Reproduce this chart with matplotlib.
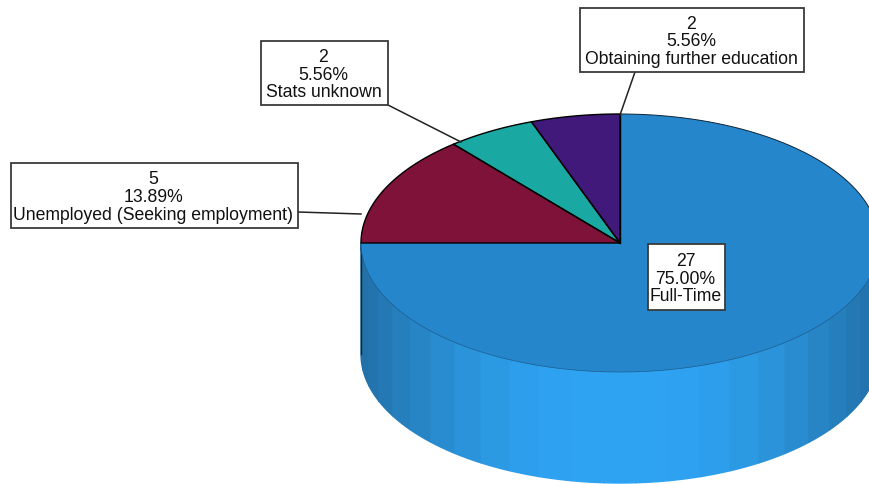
#!/usr/bin/env python

"""3D-looking pie chart of employment outcomes, drawn in pixel coordinates."""

import numpy as np
import matplotlib as mpl
mpl.use('Agg')
from matplotlib import pyplot as plt
from matplotlib.patches import Rectangle

plt.rcParams['font.family'] = ['Liberation Sans', 'DejaVu Sans']

# Chart data
categories = ['Full-Time', 'Unemployed (Seeking employment)', 'Stats unknown',
              'Obtaining further education']
counts = [27, 5, 2, 2]
percents = ['75.00%', '13.89%', '5.56%', '5.56%']
colors = ['#2586CC', '#7F1239', '#19A8A2', '#40197A']

# Layout, in pixels of the 870x484 picture
cx, cy, rx, ry = 620., 243., 259., 129.
depth = 111.
boxes = [(648, 244, 77, 66), (11, 163, 287, 65), (261, 41, 127, 64), (580, 8, 224, 64)]
leaders = [None, ((298, 212), (361, 214)), ((388, 105), (461, 142)), ((635, 72), (620, 115))]


def rim(start, stop, n=120):
    """Points on the top ellipse between two angles in degrees."""
    t = np.radians(np.linspace(start, stop, n))
    return cx + rx * np.cos(t), cy - ry * np.sin(t)


fig = plt.figure(figsize=(8.7, 4.84), dpi=100)
ax = fig.add_axes([0, 0, 1, 1])
ax.set_xlim(0, 870)
ax.set_ylim(484, 0)
ax.axis('off')

# Side wall: 7.2 degree facets, brightest at the front
wall_dark = np.array(mpl.colors.to_rgb('#226FA6'))
wall_light = np.array(mpl.colors.to_rgb('#2EA3F2'))
for a in np.arange(180., 360., 7.2):
    x, y = rim(a, a + 7.2, 12)
    shade = min(1., np.sin(np.radians(a + 3.6)) ** 2 * 1.05)
    color = wall_dark + (wall_light - wall_dark) * shade
    ax.fill(np.r_[x, x[::-1]], np.r_[y, y[::-1] + depth], color=color, lw=1., zorder=1)

ax.plot([cx - rx, cx - rx], [cy, cy + depth], color='#222222', lw=1., zorder=2)

# Top face, clockwise from 12 o'clock
start = 90.
total = sum(counts)
for count, color in zip(counts, colors):
    stop = start - 360. * count / total
    x, y = rim(start, stop)
    ax.fill(np.r_[cx, x], np.r_[cy, y], color=color, lw=0, zorder=3)
    start = stop

# Outline of the blue slice: dark at the back, faint along the front
x, y = rim(90., 0.)
ax.plot(x, y, color='#0E2436', lw=0.7, zorder=4)
x, y = rim(0., -180.)
ax.plot(x, y, color='#1C5C8C', lw=0.5, zorder=4)
ax.plot([cx, cx], [cy, cy - ry], color='black', lw=1., zorder=4)

# Edges of the small slices on top of the blue outline
start = 90. - 360. * counts[0] / total
for count in counts[1:]:
    stop = start - 360. * count / total
    x, y = rim(start, stop)
    ax.plot(np.r_[cx, x, cx], np.r_[cy, y, cy], color='black', lw=1., zorder=5)
    start = stop

# Labels
for leader in leaders:
    if leader is not None:
        (x0, y0), (x1, y1) = leader
        ax.plot([x0, x1], [y0, y1], color='#222222', lw=1.1, zorder=6)

for box, count, percent, name in zip(boxes, counts, percents, categories):
    x, y, w, h = box
    ax.add_patch(Rectangle((x, y), w, h, facecolor='white', edgecolor='#3A3A3A', lw=1.3, zorder=7))
    ax.text(x + w / 2 - 1, y + h / 2 + 2, '{}\n{}\n{}'.format(count, percent, name), ha='center',
            va='center', fontsize=12.7, linespacing=1.04, color='#111111', zorder=8)

fig.savefig('out.png', dpi=100)
plt.close(fig)
